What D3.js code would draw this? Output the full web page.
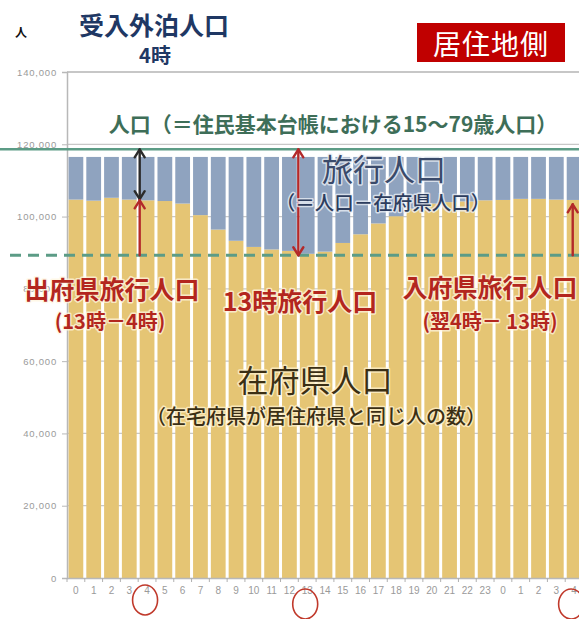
<!DOCTYPE html>
<html>
<head>
<meta charset="utf-8">
<script src="https://cdn.jsdelivr.net/npm/d3@7"></script>
<style>
  html, body { margin: 0; padding: 0; background: #fff; }
  svg { display: block; }
  text { font-family: "Noto Sans CJK JP", "Noto Sans", sans-serif; }
  .tick text { font-family: "Liberation Sans", Arial, sans-serif; }
</style>
</head>
<body>
<svg id="chart" width="579" height="619"></svg>
<script>
// Hour labels: 0時 to 23時, then the next morning 0時 to 4時
const hourLabels = ["0","1","2","3","4","5","6","7","8","9","10","11","12","13","14","15","16","17","18","19","20","21","22","23","0","1","2","3","4"];
// Residents present in their home prefecture (在府県人口)
const residentPop = [104700,104400,105200,104700,104500,104300,103600,100400,96400,93300,91600,90900,90500,89700,90300,92700,95100,98100,100100,102200,103600,104000,104200,104500,104600,104900,104900,104700,104600];
// Travelling population stacked above (旅行人口)
const travelPop = [11800,12100,11300,11800,12000,12200,12900,16100,20100,23200,24900,25600,26000,26800,26200,23800,21400,18400,16400,14300,12900,12500,12300,12000,11900,11600,11600,11800,11900];
// Registered population aged 15-79 and the minimum resident level
const registeredPop = 118600;
const minResidentPop = 89300;
const yTicks = [0,20000,40000,60000,80000,100000,120000,140000];

const svg = d3.select("#chart");
const plotLeft = 67, plotRight = 583, plotTop = 72, plotBottom = 578;

const idx = d3.range(hourLabels.length);
const x = d3.scaleBand().domain(idx).range([plotLeft, plotRight]).paddingInner(0.17).paddingOuter(0.085);
const y = d3.scaleLinear().domain([0, 140000]).range([plotBottom, plotTop]);

// Gridlines
svg.append("g").selectAll("line").data(yTicks.filter(d => d > 0)).join("line")
  .attr("x1", plotLeft).attr("x2", 579)
  .attr("y1", d => y(d)).attr("y2", d => y(d))
  .attr("stroke", d => d === 140000 ? "#b5b5b5" : "#c8c8c8")
  .attr("stroke-width", d => d === 140000 ? 1.5 : 1.2);

// Stacked bars
const bars = svg.append("g");
bars.selectAll("rect.res").data(idx).join("rect").attr("class", "res")
  .attr("x", i => x(i)).attr("width", x.bandwidth())
  .attr("y", i => y(residentPop[i])).attr("height", i => y(0) - y(residentPop[i]))
  .attr("fill", "#e5c574");
bars.selectAll("rect.trv").data(idx).join("rect").attr("class", "trv")
  .attr("x", i => x(i)).attr("width", x.bandwidth())
  .attr("y", i => y(residentPop[i] + travelPop[i])).attr("height", i => y(residentPop[i]) - y(residentPop[i] + travelPop[i]))
  .attr("fill", "#8fa3bf");

// Axes
const yAxis = svg.append("g").attr("transform", `translate(${plotLeft},0)`)
  .call(d3.axisLeft(y).tickValues(yTicks).tickSize(5).tickPadding(5).tickFormat(d3.format(",")));
yAxis.select(".domain").attr("stroke", "#b8b8b8").attr("stroke-width", 1.5);
yAxis.selectAll(".tick line").attr("stroke", "#b8b8b8");
yAxis.selectAll(".tick text").attr("fill", "#9a9a9a").attr("font-size", 9.5).attr("letter-spacing", 0.8);

const xAxis = svg.append("g").attr("transform", `translate(0,${plotBottom})`)
  .call(d3.axisBottom(x).tickSize(0).tickPadding(9).tickFormat(i => hourLabels[i]));
xAxis.select(".domain").attr("stroke", "#b8b8b8").attr("stroke-width", 1.5);
xAxis.selectAll(".tick text").attr("fill", "#9a9a9a").attr("font-size", 10);
// tick marks on category boundaries
xAxis.append("g").selectAll("line").data(idx).join("line")
  .attr("x1", i => x(i) - x.step() * x.paddingInner() / 2).attr("x2", i => x(i) - x.step() * x.paddingInner() / 2)
  .attr("y1", 0).attr("y2", 4).attr("stroke", "#b0b0b0");

// Reference lines
svg.append("line").attr("x1", 0).attr("x2", 579)
  .attr("y1", y(registeredPop)).attr("y2", y(registeredPop))
  .attr("stroke", "#5c9c86").attr("stroke-width", 2.5);
svg.append("line").attr("x1", 10).attr("x2", 579)
  .attr("y1", y(minResidentPop)).attr("y2", y(minResidentPop))
  .attr("stroke", "#5c9c86").attr("stroke-width", 3).attr("stroke-dasharray", "11,7");

// Arrows
function arrow(xp, v0, v1, color, heads) {
  const g = svg.append("g").attr("stroke", color).attr("stroke-width", 2.4).attr("fill", "none")
    .attr("stroke-linecap", "round").attr("stroke-linejoin", "round");
  const ya = y(v0), yb = y(v1);
  g.append("line").attr("x1", xp).attr("x2", xp).attr("y1", ya).attr("y2", yb);
  const hw = 5, hl = 8;
  if (heads.includes("top")) {
    const t = Math.min(ya, yb);
    g.append("polyline").attr("points", `${xp - hw},${t + hl} ${xp},${t} ${xp + hw},${t + hl}`);
  }
  if (heads.includes("bottom")) {
    const b = Math.max(ya, yb);
    g.append("polyline").attr("points", `${xp - hw},${b - hl} ${xp},${b} ${xp + hw},${b - hl}`);
  }
}
arrow(x(4), residentPop[4] + 300, registeredPop, "#2b2b2b", ["top", "bottom"]);
arrow(x(4), minResidentPop, residentPop[4], "#b3292a", ["top"]);
arrow(x(13) - 1.5, minResidentPop, registeredPop, "#b3292a", ["top", "bottom"]);
arrow(x(28) + 6, minResidentPop, residentPop[28] - 1200, "#b3292a", ["top"]);

// Circles marking 4時, 13時 and next-day 4時
const rings = [[4, -2, 600], [13, -2, 604], [28, -3, 604]];
svg.append("g").selectAll("ellipse").data(rings).join("ellipse")
  .attr("cx", d => x(d[0]) + x.bandwidth() / 2 + d[1]).attr("cy", d => d[2])
  .attr("rx", 12.5).attr("ry", 15)
  .attr("fill", "none").attr("stroke", "#c0392b").attr("stroke-width", 1.6);

// Text labels
function label(txt, cx, by, size, color, weight, halo) {
  const t = svg.append("text").attr("x", cx).attr("y", by).attr("text-anchor", "middle")
    .attr("font-size", size).attr("fill", color).attr("font-weight", weight).text(txt);
  if (halo) t.attr("stroke", halo).attr("stroke-width", 3).attr("stroke-opacity", 0.75)
    .attr("paint-order", "stroke").attr("stroke-linejoin", "round");
  return t;
}

label("人", 21, 37, 12, "#111", "bold");
label("受入外泊人口", 154, 35, 25, "#1f3864", "bold");
label("4時", 155, 63, 20, "#1f3864", "bold");

svg.append("rect").attr("x", 417).attr("y", 23).attr("width", 148).attr("height", 39).attr("fill", "#c00000");
label("居住地側", 491, 55, 28, "#fff", "normal").attr("letter-spacing", 1);

label("人口（＝住民基本台帳における15～79歳人口）", 333, 132, 21, "#3e6e58", "bold", "#ffffff");

label("旅行人口", 384, 181, 31, "#3a4a6a", "normal", "#eef2f8");
label("（＝人口－在府県人口）", 383, 210, 19.5, "#2d3d5e", "500", "#eef2f8");

label("出府県旅行人口", 112, 299, 25, "#b3261e", "bold", "#fff6e0");
label("(13時－4時)", 110, 329, 20, "#b3261e", "bold", "#fff6e0");
label("13時旅行人口", 300, 311, 25, "#b3261e", "bold", "#fff6e0");
label("入府県旅行人口", 490, 297, 25, "#b3261e", "bold", "#fff6e0");
label("(翌4時－ 13時)", 490, 329, 20, "#b3261e", "bold", "#fff6e0");

label("在府県人口", 315, 392, 31, "#3b2f14", "normal", "#fff3d0");
label("（在宅府県が居住府県と同じ人の数）", 316, 424, 20, "#3b2f14", "500", "#fff3d0");
</script>
</body>
</html>
